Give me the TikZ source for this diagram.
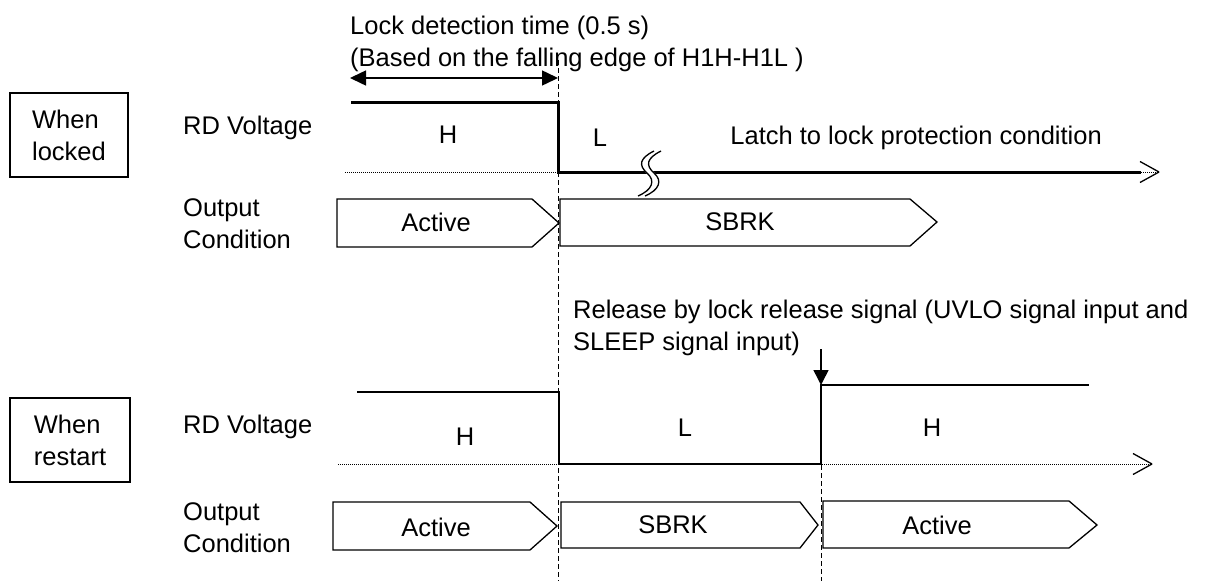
\documentclass[tikz,border=0pt]{standalone}
\usepackage{fontspec}
\setmainfont{Liberation Sans}
\usetikzlibrary{arrows.meta}
\begin{document}
\begin{tikzpicture}[x=1pt,y=-1pt,
  every node/.style={inner sep=0pt, font=\fontsize{25.5}{32}\selectfont},
  lbl/.style={anchor=west, align=left},
  statebox/.style={draw, line width=2pt, minimum width=118pt, minimum height=84pt, align=left},
  sig/.style={draw, line width=1.3pt, line join=miter},
  guide/.style={line width=1pt, dash pattern=on 5pt off 3pt},
  baseline/.style={line width=0.9pt, dash pattern=on 1pt off 1pt},
  thickw/.style={line width=3pt, line join=miter},
  thinw/.style={line width=1.5pt, line join=miter},
  openhead/.style={line width=1.3pt},
  tri/.style={line width=1.5pt},
]
\useasboundingbox (0,0) rectangle (1205,581);

% ---- labels on the left
\node[statebox] (wl) at (69,135) {When\\locked};
\node[statebox, minimum width=120pt] (wr) at (70,440) {When\\restart};
\node[lbl] (rd1) at (183,128) {RD Voltage};
\node[lbl] (oc1) at (183,224) {Output\\Condition};
\node[lbl] (rd2) at (183,427) {RD Voltage};
\node[lbl] (oc2) at (183,528) {Output\\Condition};

% ---- top annotation
\node[lbl] (lock) at (350,44) {Lock detection time (0.5 s)\\(Based on the falling edge of H1H-H1L )};
\coordinate (a1) at (350,78);
\coordinate (a2) at (558,78);
\draw[tri, {Triangle[length=16pt,width=15pt]}-{Triangle[length=16pt,width=15pt]}] (a1) -- (a2);

% ---- guide lines
\coordinate (g1t) at (558,60);
\coordinate (g1b) at (558,581);
\coordinate (g2t) at (821,385);
\coordinate (g2b) at (821,581);
\draw[guide] (g1t) -- (g1b);
\draw[guide] (g2t) -- (g2b);

% ---- top waveform
\coordinate (b1s) at (345,172);
\coordinate (b1e) at (1159,172);
\draw[baseline] (b1s) -- (b1e);
\draw[openhead] (b1e) -- ++(-19,-10.5);
\draw[openhead] (b1e) -- ++(-19,10.5);
\coordinate (t0) at (351,102);
\coordinate (t1) at (558,102);
\coordinate (t2) at (558,172);
\coordinate (t3) at (1141,172);
\draw[thickw] (t0) -- (t1) -- (t2) -- (t3);
% break mark
\draw[white, line width=6pt] (657.5,151) .. controls (643.5,158) and (641.5,165) .. (650.5,173) .. controls (659.5,181) and (655.5,190) .. (641.5,196);
\draw[line width=1.3pt] (654,151) .. controls (640,158) and (638,165) .. (647,173) .. controls (656,181) and (652,190) .. (638,196);
\draw[line width=1.3pt] (661,151) .. controls (647,158) and (645,165) .. (654,173) .. controls (663,181) and (659,190) .. (645,196);

\node (h1) at (448,135) {H};
\node (l1) at (600,138) {L};
\node[anchor=east] (latch) at (1102,138) {Latch to lock protection condition};

% ---- top output condition
\draw[sig] (337,199) -- (532,199) -- (559,223) -- (532,247) -- (337,247) -- cycle;
\node (act1) at (436,222) {Active};
\draw[sig] (560,199) -- (910,199) -- (937,222) -- (910,246) -- (560,246) -- cycle;
\node (sb1) at (740,222) {SBRK};

% ---- release annotation
\node[lbl] (rel) at (573,328) {Release by lock release signal (UVLO signal input and\\SLEEP signal input)};
\coordinate (r1) at (821,349);
\coordinate (r2) at (821,385);
\draw[tri, -{Triangle[length=15pt,width=15pt]}] (r1) -- (r2);

% ---- restart waveform
\coordinate (b2s) at (338,464);
\coordinate (b2e) at (1152,464);
\draw[baseline] (b2s) -- (b2e);
\draw[openhead] (b2e) -- ++(-19,-10.5);
\draw[openhead] (b2e) -- ++(-19,10.5);
\coordinate (s0) at (357,392);
\coordinate (s1) at (559,392);
\coordinate (s2) at (559,464);
\coordinate (s3) at (821,464);
\coordinate (s4) at (821,385);
\coordinate (s5) at (1089,385);
\draw[thinw] (s0) -- (s1) -- (s2) -- (s3) -- (s4) -- (s5);
\node (h2) at (465,437) {H};
\node (l2) at (685,428) {L};
\node (h3) at (932,428) {H};

% ---- restart output condition
\draw[sig] (333,502) -- (530,502) -- (557,526) -- (530,550) -- (333,550) -- cycle;
\node (act2) at (436,527) {Active};
\draw[sig] (561,502) -- (800,502) -- (818,525) -- (800,548) -- (561,548) -- cycle;
\node (sb2) at (673,525) {SBRK};
\draw[sig] (823,501) -- (1069,501) -- (1097,525) -- (1069,548) -- (823,548) -- cycle;
\node (act3) at (937,525) {Active};
\end{tikzpicture}
\end{document}
